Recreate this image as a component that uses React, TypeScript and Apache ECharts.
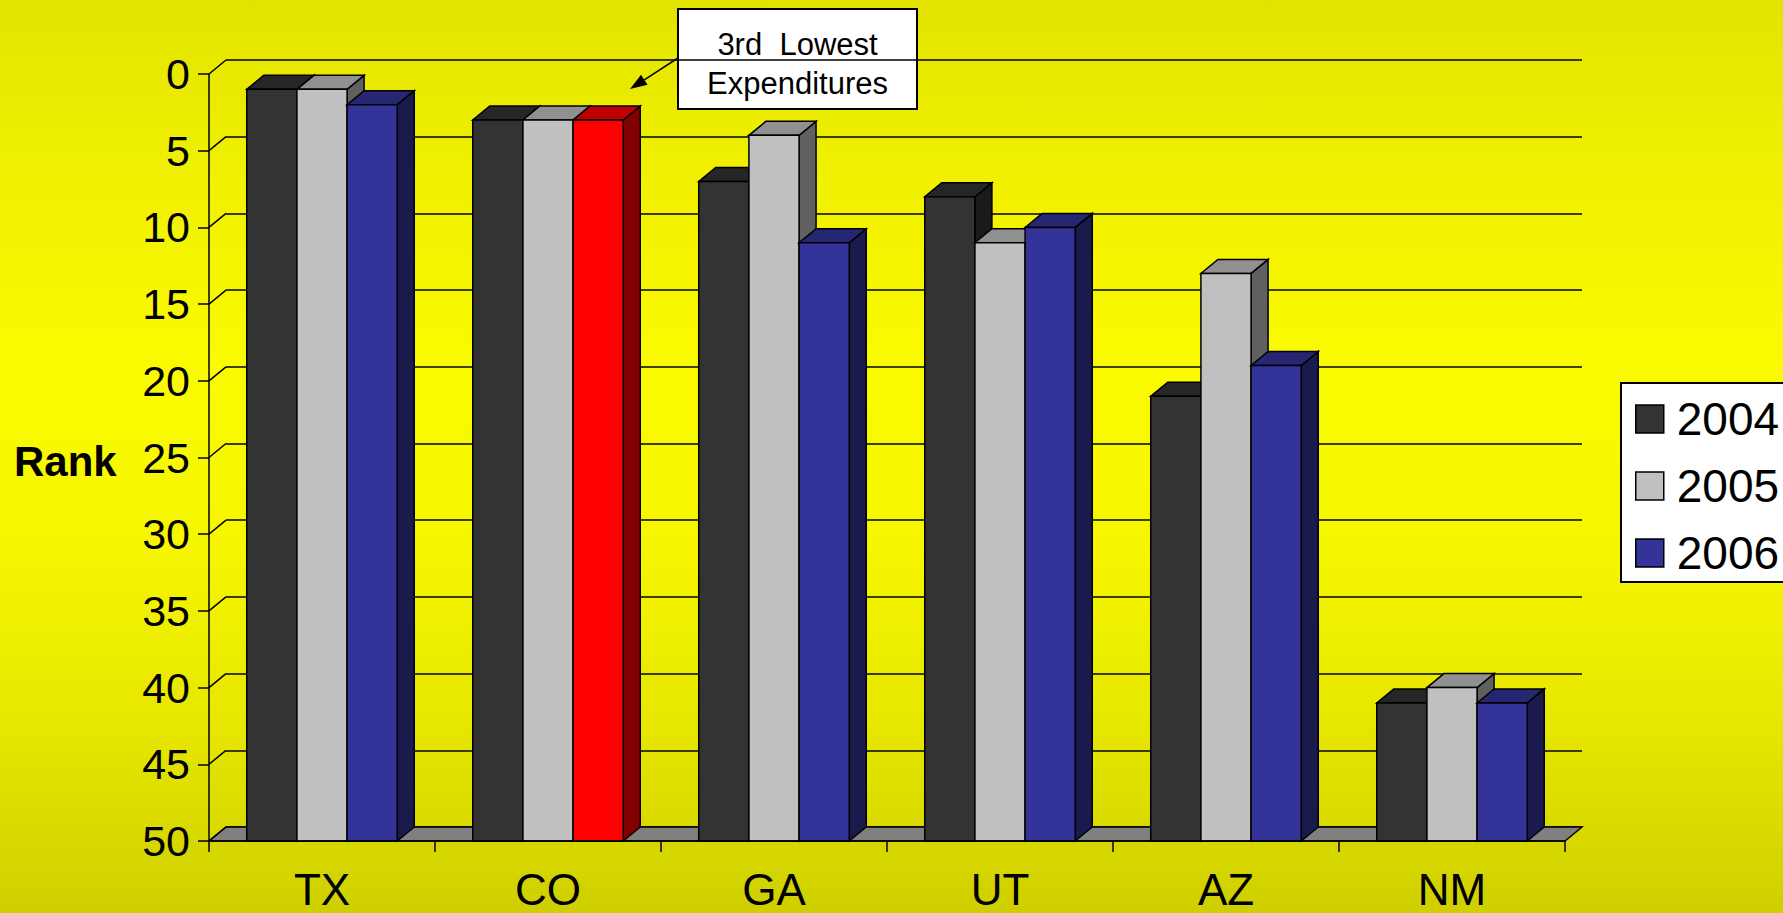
import React, { useEffect, useRef } from "react";
import * as echarts from "echarts";

// States ranked by expenditures, one value per year (1 = lowest)
const categories = ["TX", "CO", "GA", "UT", "AZ", "NM"];
const years = ["2004", "2005", "2006"];
const rank2004 = [1, 3, 7, 8, 21, 41];
const rank2005 = [1, 3, 4, 11, 13, 40];
const rank2006 = [2, 3, 11, 10, 19, 41];
const rankTicks = [0, 5, 10, 15, 20, 25, 30, 35, 40, 45, 50];
const rankMin = 0;
const rankMax = 50;
const rankStep = 5;
const highlight = { category: "CO", year: "2006" };
const calloutLines = ["3rd  Lowest", "Expenditures"];

const FONT = "'Liberation Sans', Arial, Helvetica, sans-serif";

// 3D depth offset of the bars and walls (px)
const DX = 17;
const DY = 14;
const LW = 1.5;
const BAR_FRACTION = 0.222;

type Palette = { front: string; top: string; side: string };
const palettes: Palette[] = [
  { front: "#333333", top: "#262626", side: "#1a1a1a" },
  { front: "#c0c0c0", top: "#909090", side: "#606060" },
  { front: "#333399", top: "#262673", side: "#1a1a4d" },
];
const highlightPalette: Palette = { front: "#ff0000", top: "#bf0000", side: "#800000" };

const GRID = { left: 209, right: 218, top: 74, bottom: 72 };

function barSeries(name: string, values: number[], k: number) {
  const palette = palettes[k];
  return {
    type: "custom",
    name,
    xAxisIndex: 0,
    yAxisIndex: 0,
    silent: true,
    itemStyle: { color: palette.front },
    data: values.map((v, i) => [i, v]),
    renderItem: (_params: any, api: any) => {
      const ci = api.value(0) as number;
      const v = api.value(1) as number;
      const band = api.size([1, 0])[0];
      const bw = band * BAR_FRACTION;
      const topPt = api.coord([ci, v]);
      const basePt = api.coord([ci, rankMax]);
      const x0 = topPt[0] - 1.5 * bw + k * bw;
      const x1 = x0 + bw;
      const yt = topPt[1];
      const yb = basePt[1];
      const pal =
        categories[ci] === highlight.category && name === highlight.year ? highlightPalette : palette;
      const line = { stroke: "#000", lineWidth: LW, lineJoin: "miter" };
      return {
        type: "group",
        children: [
          {
            type: "polygon",
            shape: { points: [[x1, yb], [x1 + DX, yb - DY], [x1 + DX, yt - DY], [x1, yt]] },
            style: { fill: pal.side, ...line },
          },
          {
            type: "polygon",
            shape: { points: [[x0, yt], [x1, yt], [x1 + DX, yt - DY], [x0 + DX, yt - DY]] },
            style: { fill: pal.top, ...line },
          },
          {
            type: "rect",
            shape: { x: x0, y: yt, width: bw, height: yb - yt },
            style: { fill: pal.front, ...line },
          },
        ],
      };
    },
  };
}

export default function App() {
  const ref = useRef<HTMLDivElement>(null);

  useEffect(() => {
    if (!ref.current) return;
    const chart = echarts.init(ref.current, undefined, { renderer: "svg" });

    const calloutLeft = 678;
    const calloutTop = 9;
    const calloutW = 239;
    const calloutH = 100;
    const arrowStart = [calloutLeft, 58];
    const arrowTip = [630, 89];
    const ax = arrowTip[0] - arrowStart[0];
    const ay = arrowTip[1] - arrowStart[1];
    const alen = Math.hypot(ax, ay);
    const ux = ax / alen;
    const uy = ay / alen;
    const headLen = 17;
    const headHalf = 6;
    const bx = arrowTip[0] - ux * headLen;
    const by = arrowTip[1] - uy * headLen;

    const option: any = {
      animation: false,
      backgroundColor: new echarts.graphic.LinearGradient(0, 0, 0, 1, [
        { offset: 0, color: "#e3e300" },
        { offset: 0.2, color: "#f1f100" },
        { offset: 0.4, color: "#fafa00" },
        { offset: 0.6, color: "#f6f600" },
        { offset: 0.8, color: "#e6e600" },
        { offset: 1, color: "#cfcf00" },
      ]),
      textStyle: { fontFamily: FONT },
      grid: [
        { ...GRID },
        {
          left: GRID.left + DX,
          right: GRID.right - DX,
          top: GRID.top - DY,
          bottom: GRID.bottom + DY,
        },
      ],
      xAxis: [
        {
          type: "category",
          gridIndex: 0,
          position: "bottom",
          data: categories,
          axisLine: { show: true, onZero: false, lineStyle: { color: "#000", width: LW } },
          axisTick: { show: true, length: 11, lineStyle: { color: "#000", width: LW } },
          axisLabel: {
            color: "#000",
            fontSize: 44,
            lineHeight: 44,
            fontFamily: FONT,
            margin: 26,
          },
          splitLine: { show: false },
          z: 5,
        },
        {
          type: "category",
          gridIndex: 1,
          data: categories,
          show: false,
        },
      ],
      yAxis: [
        {
          type: "value",
          gridIndex: 0,
          inverse: true,
          min: rankMin,
          max: rankMax,
          interval: rankStep,
          axisLine: { show: true, onZero: false, lineStyle: { color: "#000", width: LW } },
          axisTick: { show: true, length: 11, lineStyle: { color: "#000", width: LW } },
          axisLabel: { color: "#000", fontSize: 43, fontFamily: FONT, margin: 19 },
          splitLine: { show: false },
        },
        {
          type: "value",
          gridIndex: 1,
          inverse: true,
          min: rankMin,
          max: rankMax,
          interval: rankStep,
          axisLine: { show: false },
          axisTick: { show: false },
          axisLabel: { show: false },
          splitLine: { show: true, lineStyle: { color: "#000", width: LW } },
        },
      ],
      legend: {
        show: true,
        orient: "vertical",
        left: 1621,
        top: 383,
        padding: [13, 20, 6, 14],
        itemGap: 21,
        itemWidth: 28,
        itemHeight: 28,
        selectedMode: false,
        backgroundColor: "#ffffff",
        borderColor: "#000000",
        borderWidth: 2,
        textStyle: { color: "#000", fontSize: 46, fontFamily: FONT, padding: [0, 0, 0, 8] },
        data: years.map((y, k) => ({
          name: y,
          icon: "rect",
          itemStyle: { color: palettes[k].front, borderColor: "#000", borderWidth: LW },
        })),
      },
      series: [
        // left side wall gridlines and the floor
        {
          type: "custom",
          xAxisIndex: 0,
          yAxisIndex: 0,
          silent: true,
          data: rankTicks.map((v) => [0, v]),
          renderItem: (params: any, api: any) => {
            const v = api.value(1) as number;
            const cs = params.coordSys;
            const y = api.coord([0, v])[1];
            const x0 = cs.x;
            const children: any[] = [];
            if (v === rankMax) {
              children.push({
                type: "polygon",
                shape: {
                  points: [
                    [x0, y],
                    [x0 + cs.width, y],
                    [x0 + cs.width + DX, y - DY],
                    [x0 + DX, y - DY],
                  ],
                },
                style: { fill: "#808080", stroke: "#000", lineWidth: LW },
              });
            }
            children.push({
              type: "line",
              shape: { x1: x0, y1: y, x2: x0 + DX, y2: y - DY },
              style: { stroke: "#000", lineWidth: LW },
            });
            return { type: "group", children };
          },
        },
        barSeries(years[0], rank2004, 0),
        barSeries(years[1], rank2005, 1),
        barSeries(years[2], rank2006, 2),
      ],
      graphic: [
        {
          type: "text",
          left: 14,
          top: 440,
          style: {
            text: "Rank",
            fill: "#000",
            font: `bold 42px ${FONT}`,
          },
        },
        {
          type: "rect",
          shape: { x: calloutLeft, y: calloutTop, width: calloutW, height: calloutH },
          style: { fill: "#ffffff", stroke: "#000", lineWidth: 2 },
        },
        {
          type: "text",
          x: calloutLeft + calloutW / 2,
          y: 44,
          style: {
            text: calloutLines[0],
            fill: "#000",
            font: `31px ${FONT}`,
            align: "center",
            verticalAlign: "middle",
          },
        },
        {
          type: "text",
          x: calloutLeft + calloutW / 2,
          y: 83,
          style: {
            text: calloutLines[1],
            fill: "#000",
            font: `31px ${FONT}`,
            align: "center",
            verticalAlign: "middle",
          },
        },
        {
          type: "line",
          shape: { x1: arrowStart[0], y1: arrowStart[1], x2: bx, y2: by },
          style: { stroke: "#000", lineWidth: 1.5 },
        },
        {
          type: "polygon",
          shape: {
            points: [
              [arrowTip[0], arrowTip[1]],
              [bx - uy * headHalf, by + ux * headHalf],
              [bx + uy * headHalf, by - ux * headHalf],
            ],
          },
          style: { fill: "#000" },
        },
      ],
    };

    chart.setOption(option);
    return () => chart.dispose();
  }, []);

  return (
    <div
      ref={ref}
      style={{ position: "fixed", left: 0, top: 0, width: 1783, height: 913 }}
    />
  );
}
